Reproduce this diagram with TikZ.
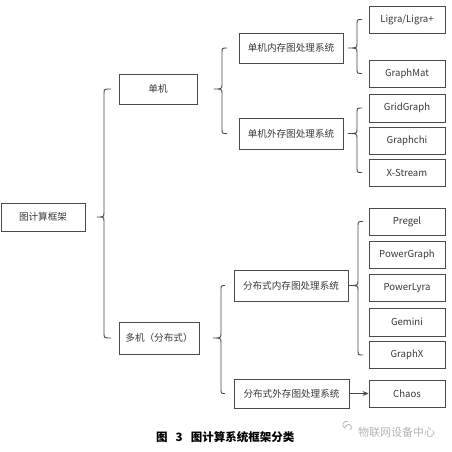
\documentclass[tikz,border=0pt]{standalone}
\usepackage{fontspec}
\setmainfont{Noto Sans CJK SC}
\usetikzlibrary{calc,arrows.meta}
\definecolor{edge}{HTML}{4A4A4A}
\definecolor{txt}{HTML}{383838}
\definecolor{wm}{HTML}{B4B4B4}
\tikzset{
  box/.style={draw=edge, line width=0.9pt, rectangle, inner sep=0pt, text=txt,
    font=\fontsize{9.6}{11}\selectfont},
  leaf/.style={box, minimum width=76pt, minimum height=27pt},
  bracestyle/.style={draw=edge, line width=0.9pt, line join=round},
}
\newcommand\cbrace[6]{%
  \coordinate (bt) at (#4,0);
  \coordinate (bl) at (#5,0);
  \coordinate (be) at (#6,0);
  \draw[bracestyle] (be |- #2.west) .. controls (bl |- #2.west) .. ($(bl |- #2.west)+(0,5)$)
    -- ($(bl |- #1.east)+(0,-5)$) .. controls (bl |- #1.east) .. (bt |- #1.east)
    .. controls (bl |- #1.east) .. ($(bl |- #1.east)+(0,5)$)
    -- ($(bl |- #3.west)+(0,-5)$) .. controls (bl |- #3.west) .. (be |- #3.west);
}
\begin{document}
\begin{tikzpicture}[x=1pt,y=-1pt]
\useasboundingbox (0,0) rectangle (452,452);
\fill[white] (0,0) rectangle (452,452);
% level 0
\node[box, minimum width=84pt, minimum height=28pt] (root) at (43,217) {图计算框架};
% level 1
\node[box, minimum width=78pt, minimum height=30pt] (sm) at (158,89) {单机};
\node[box, minimum width=80pt, minimum height=32pt] (mm) at (159,338) {多机（分布式）};
% level 2
\node[box, minimum width=104pt, minimum height=30pt] (smin) at (291,48) {单机内存图处理系统};
\node[box, minimum width=104pt, minimum height=31pt] (smout) at (291,133.5) {单机外存图处理系统};
\node[box, minimum width=114pt, minimum height=31pt] (dmin) at (291,285.5) {分布式内存图处理系统};
\node[box, minimum width=115pt, minimum height=29pt] (dmout) at (291.5,393.5) {分布式外存图处理系统};
% leaves
\node[leaf] (ligra) at (407,19.5) {Ligra/Ligra+};
\node[leaf] (gmat) at (407,73.5) {GraphMat};
\node[leaf, minimum height=28pt] (grid) at (407,108) {GridGraph};
\node[leaf] (gchi) at (407,140.5) {Graphchi};
\node[leaf] (xs) at (407,172.5) {X-Stream};
\node[leaf] (pregel) at (407,221.5) {Pregel};
\node[leaf] (pg) at (407,255) {PowerGraph};
\node[leaf] (pl) at (407,288) {PowerLyra};
\node[leaf, minimum height=28pt] (gem) at (407,322) {Gemini};
\node[leaf] (gx) at (407,355) {GraphX};
\node[leaf] (chaos) at (407,393.5) {Chaos};
% braces
\cbrace{root}{sm}{mm}{97}{104}{111}
\cbrace{sm}{smin}{smout}{214}{222}{227}
\cbrace{mm}{dmin}{dmout}{213}{221}{225}
\cbrace{smin}{ligra}{gmat}{348}{357}{362}
\cbrace{smout}{grid}{xs}{348}{357}{362}
\cbrace{dmin}{pregel}{gx}{349}{358}{363}
% arrow
\draw[draw=edge, line width=0.9pt, -{Stealth[length=6pt,width=5pt]}] (dmout.east) -- (chaos.west);
% caption
\node[anchor=west, inner sep=0pt, text=black, font=\fontsize{11.5}{13}\selectfont\bfseries] (cap) at (156,437)
  {图\hspace{0.7em}3\hspace{0.7em}图计算系统框架分类};
% watermark
\node[anchor=west, inner sep=0pt, text=wm, font=\fontsize{11}{13}\selectfont] (wmt) at (358,432) {物联网设备中心};
\draw[wm, line width=0.8pt] (345,428) arc (110:300:3.5);
\draw[wm, line width=0.8pt] (350,430) arc (60:-200:3);
\end{tikzpicture}
\end{document}
